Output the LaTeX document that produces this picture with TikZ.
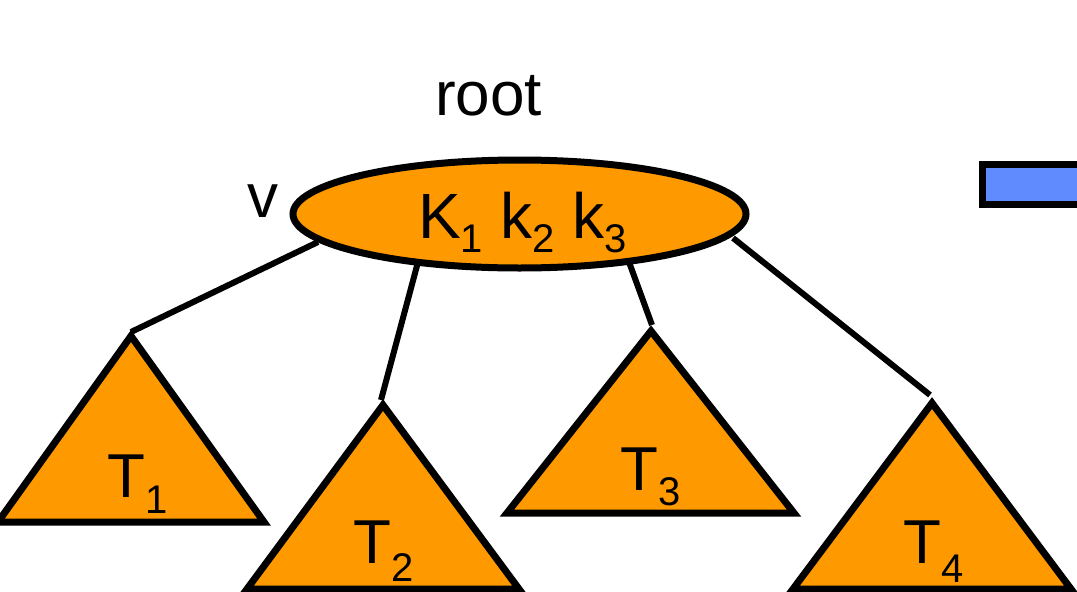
\documentclass[tikz,border=0pt]{standalone}
\usepackage{fontspec}
\setmainfont{Liberation Sans}
\usetikzlibrary{shapes.geometric}
\definecolor{tor}{RGB}{255,153,0}
\definecolor{tblue}{RGB}{95,139,255}
\newcommand\lsub[2]{\raisebox{-#1pt}{\fontsize{40}{40}\selectfont #2}}
\tikzset{
  tri/.style={draw=black,fill=tor,line width=7pt,line join=miter},
  conn/.style={draw=black,line width=6pt},
  lbl/.style={anchor=base west,inner sep=0pt,font=\fontsize{62}{62}\selectfont},
}
\begin{document}
\begin{tikzpicture}[x=1pt,y=-1pt]
\useasboundingbox (0,0) rectangle (1077,592);
% blue box (cut by the right edge)
\draw[line width=7pt,fill=tblue] (982,164) rectangle (1095,204);
% triangles
\coordinate (a1) at (131,336); \coordinate (b1) at (-2,522); \coordinate (c1) at (264,522);
\coordinate (a2) at (383,405); \coordinate (b2) at (247,589); \coordinate (c2) at (519,589);
\coordinate (a3) at (651,331); \coordinate (b3) at (507,513); \coordinate (c3) at (794,513);
\coordinate (a4) at (932,403); \coordinate (b4) at (793,589); \coordinate (c4) at (1071,589);
\draw[tri] (a1) -- (b1) -- (c1) -- cycle;
\draw[tri] (a2) -- (b2) -- (c2) -- cycle;
\draw[tri] (a3) -- (b3) -- (c3) -- cycle;
\draw[tri] (a4) -- (b4) -- (c4) -- cycle;
% connector end points
\coordinate (s1) at (318,242); \coordinate (t1) at (131,332);
\coordinate (s2) at (418,262); \coordinate (t2) at (381,400);
\coordinate (s3) at (629,262); \coordinate (t3) at (652,325);
\coordinate (s4) at (733,238); \coordinate (t4) at (930,395);
\draw[conn] (s1) -- (t1);
\draw[conn] (s2) -- (t2);
\draw[conn] (s3) -- (t3);
\draw[conn] (s4) -- (t4);
% root node
\node[ellipse,draw=black,fill=tor,line width=7pt,minimum width=453pt,minimum height=108pt,inner sep=0pt] (v) at (519.5,214) {};
\node[lbl,font=\fontsize{64}{64}\selectfont] (keys) at (418,238) {K\lsub{14}{1} k\lsub{14}{2} k\lsub{14}{3}};
\node[lbl] (root) at (435,115) {root};
\node[lbl] (vl) at (247,217) {v};
% subtree labels
\node[lbl] (l1) at (107,497) {T\lsub{16}{1}};
\node[lbl] (l2) at (353,563) {T\lsub{18}{2}};
\node[lbl] (l3) at (620,490) {T\lsub{15}{3}};
\node[lbl] (l4) at (903,563) {T\lsub{19}{4}};
\end{tikzpicture}
\end{document}
